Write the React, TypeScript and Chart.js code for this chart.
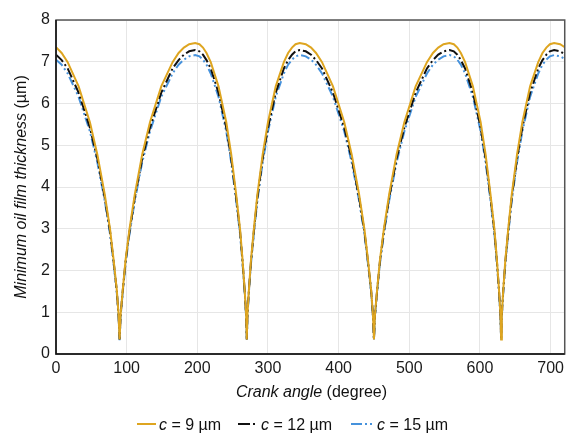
import React, { useEffect, useRef } from "react";
import { Chart, registerables } from "chart.js";
Chart.register(...registerables);

const angles = [
  0, 8, 16.5, 32, 48, 58.5, 69, 76.5, 81.5, 86, 88.5, 90,
  91.5, 94.5, 98.5, 104, 111.5, 122, 133, 149, 165, 173.5, 181, 188.5, 197,
  203, 208, 213, 219, 230, 241, 248, 255, 260.5, 264, 267, 269, 270,
  271, 273, 276, 280, 285, 292.5, 300, 311, 322.5, 328.5, 334, 339, 345,
  353.5, 361, 368, 376.5, 392, 408, 418.5, 429, 436.5, 441.5, 446, 448.5, 450,
  451.5, 454.5, 458.5, 464, 471.5, 482, 493, 509, 525, 533.5, 541, 548.5, 557,
  563, 568, 573, 579, 590, 601, 608, 615, 620.5, 624, 627, 629, 630,
  631, 633, 636, 640, 645, 652.5, 660, 671, 682.5, 688.5, 694, 699, 705,
  713.5, 720,
];

const c9 = [
  7.35, 7.21, 6.99, 6.41, 5.55, 4.78, 3.82, 2.99, 2.26, 1.54, 0.96, 0.35,
  0.96, 1.54, 2.26, 2.99, 3.82, 4.78, 5.55, 6.41, 6.99, 7.21, 7.34, 7.42, 7.45,
  7.42, 7.34, 7.21, 6.99, 6.41, 5.55, 4.78, 3.82, 2.99, 2.26, 1.54, 0.96, 0.35,
  0.96, 1.54, 2.26, 2.99, 3.82, 4.78, 5.55, 6.41, 6.99, 7.21, 7.34, 7.42, 7.45,
  7.42, 7.34, 7.21, 6.99, 6.41, 5.55, 4.78, 3.82, 2.99, 2.26, 1.54, 0.96, 0.35,
  0.96, 1.54, 2.26, 2.99, 3.82, 4.78, 5.55, 6.41, 6.99, 7.21, 7.34, 7.42, 7.45,
  7.42, 7.34, 7.21, 6.99, 6.41, 5.55, 4.78, 3.82, 2.99, 2.26, 1.54, 0.96, 0.35,
  0.96, 1.54, 2.26, 2.99, 3.82, 4.78, 5.55, 6.41, 6.99, 7.21, 7.34, 7.42, 7.45,
  7.42, 7.35,
];

const c12 = [
  7.17, 7.04, 6.84, 6.26, 5.42, 4.68, 3.74, 2.93, 2.22, 1.52, 0.94, 0.35,
  0.94, 1.52, 2.22, 2.93, 3.74, 4.68, 5.42, 6.26, 6.84, 7.04, 7.17, 7.25, 7.28,
  7.25, 7.17, 7.04, 6.84, 6.26, 5.42, 4.68, 3.74, 2.93, 2.22, 1.52, 0.94, 0.35,
  0.94, 1.52, 2.22, 2.93, 3.74, 4.68, 5.42, 6.26, 6.84, 7.04, 7.17, 7.25, 7.28,
  7.25, 7.17, 7.04, 6.84, 6.26, 5.42, 4.68, 3.74, 2.93, 2.22, 1.52, 0.94, 0.35,
  0.94, 1.52, 2.22, 2.93, 3.74, 4.68, 5.42, 6.26, 6.84, 7.04, 7.17, 7.25, 7.28,
  7.25, 7.17, 7.04, 6.84, 6.26, 5.42, 4.68, 3.74, 2.93, 2.22, 1.52, 0.94, 0.35,
  0.94, 1.52, 2.22, 2.93, 3.74, 4.68, 5.42, 6.26, 6.84, 7.04, 7.17, 7.25, 7.28,
  7.25, 7.18,
];

const c15 = [
  7.05, 6.93, 6.72, 6.16, 5.33, 4.59, 3.67, 2.87, 2.17, 1.48, 0.91, 0.33,
  0.91, 1.48, 2.17, 2.87, 3.67, 4.59, 5.33, 6.16, 6.72, 6.93, 7.05, 7.13, 7.16,
  7.13, 7.05, 6.93, 6.72, 6.16, 5.33, 4.59, 3.67, 2.87, 2.17, 1.48, 0.91, 0.33,
  0.91, 1.48, 2.17, 2.87, 3.67, 4.59, 5.33, 6.16, 6.72, 6.93, 7.05, 7.13, 7.16,
  7.13, 7.05, 6.93, 6.72, 6.16, 5.33, 4.59, 3.67, 2.87, 2.17, 1.48, 0.91, 0.33,
  0.91, 1.48, 2.17, 2.87, 3.67, 4.59, 5.33, 6.16, 6.72, 6.93, 7.05, 7.13, 7.16,
  7.13, 7.05, 6.93, 6.72, 6.16, 5.33, 4.59, 3.67, 2.87, 2.17, 1.48, 0.91, 0.33,
  0.91, 1.48, 2.17, 2.87, 3.67, 4.59, 5.33, 6.16, 6.72, 6.93, 7.05, 7.13, 7.16,
  7.13, 7.07,
];

const xTicks = [0, 100, 200, 300, 400, 500, 600, 700];
const yTicks = [0, 1, 2, 3, 4, 5, 6, 7, 8];

const FONT = "'Liberation Sans', Arial, Helvetica, sans-serif";
const YELLOW = "#DEA520";
const BLACK = "#111111";
const BLUE = "#4692DC";

export default function App() {
  const ref = useRef<HTMLCanvasElement>(null);

  useEffect(() => {
    document.body.style.margin = "0";
    const pts = (ys: number[]) => angles.map((a, i) => ({ x: a, y: ys[i] }));
    const frame = {
      id: "frame",
      afterDatasetsDraw(chart: any) {
        const { ctx, chartArea: a } = chart;
        ctx.save();
        ctx.strokeStyle = "#555555";
        ctx.lineWidth = 1.5;
        ctx.strokeRect(a.left, a.top, a.right - a.left, a.bottom - a.top);
        ctx.strokeStyle = "#111111";
        ctx.beginPath();
        ctx.moveTo(a.left, a.top);
        ctx.lineTo(a.left, a.bottom);
        ctx.lineTo(a.right, a.bottom);
        ctx.stroke();
        ctx.restore();
      },
    };
    const chart = new Chart(ref.current as HTMLCanvasElement, {
      type: "line",
      data: {
        datasets: [
          { label: "c = 9 µm", data: pts(c9), borderColor: YELLOW, borderWidth: 2, pointRadius: 0, tension: 0, fill: false },
          { label: "c = 12 µm", data: pts(c12), borderColor: BLACK, borderWidth: 2, borderDash: [10, 3, 2, 3], pointRadius: 0, tension: 0, fill: false },
          { label: "c = 15 µm", data: pts(c15), borderColor: BLUE, borderWidth: 2, borderDash: [9, 3, 2, 3, 2, 3], pointRadius: 0, tension: 0, fill: false },
        ],
      },
      options: {
        animation: false,
        responsive: false,
        maintainAspectRatio: false,
        events: [],
        layout: { padding: { top: 20, right: 2, bottom: 0, left: 0 } },
        plugins: { legend: { display: false }, tooltip: { enabled: false } },
        scales: {
          x: {
            type: "linear",
            min: 0,
            max: 720,
            afterBuildTicks: (s: any) => { s.ticks = xTicks.map((v) => ({ value: v })); },
            afterFit: (s: any) => { s.height = 83; },
            ticks: { font: { family: FONT, size: 16 }, color: "#1a1a1a", padding: 5, maxRotation: 0 },
            grid: { color: "#e6e6e6", drawTicks: false, lineWidth: 1 },
            border: { display: false },
          },
          y: {
            type: "linear",
            min: 0,
            max: 8,
            afterBuildTicks: (s: any) => { s.ticks = yTicks.map((v) => ({ value: v })); },
            afterFit: (s: any) => { s.width = 56; },
            ticks: { font: { family: FONT, size: 16 }, color: "#1a1a1a", padding: 6 },
            grid: { color: "#e6e6e6", drawTicks: false, lineWidth: 1 },
            border: { display: false },
          },
        },
      },
      plugins: [frame],
    } as any);
    return () => chart.destroy();
  }, []);

  const textStyle: React.CSSProperties = { fontFamily: FONT, fontSize: 16, color: "#111", whiteSpace: "nowrap", position: "absolute", lineHeight: "20px" };

  return (
    <div style={{ position: "relative", width: 569, height: 437, background: "#fff" }}>
      <canvas ref={ref} width={569} height={437} style={{ display: "block", width: 569, height: 437 }} />
      <div style={{ ...textStyle, left: 56, width: 511, top: 382, textAlign: "center" }}>
        <i>Crank angle</i> (degree)
      </div>
      <div style={{ ...textStyle, left: 21 - 160, top: 187 - 10, width: 320, height: 20, textAlign: "center", transform: "rotate(-90deg)" }}>
        <i>Minimum oil film thickness</i> (µm)
      </div>
      <svg style={{ position: "absolute", left: 137, top: 419 }} width={20} height={10}>
        <line x1={0} y1={5} x2={19} y2={5} stroke={YELLOW} strokeWidth={2} />
      </svg>
      <div style={{ ...textStyle, left: 159, top: 415 }}><i>c</i> = 9 µm</div>
      <svg style={{ position: "absolute", left: 238, top: 419 }} width={20} height={10}>
        <line x1={0} y1={5} x2={19} y2={5} stroke={BLACK} strokeWidth={2} strokeDasharray="12 3 2 3" />
      </svg>
      <div style={{ ...textStyle, left: 261, top: 415 }}><i>c</i> = 12 µm</div>
      <svg style={{ position: "absolute", left: 351, top: 419 }} width={24} height={10}>
        <line x1={0} y1={5} x2={22} y2={5} stroke={BLUE} strokeWidth={2} strokeDasharray="11 3 2 3 2 3" />
      </svg>
      <div style={{ ...textStyle, left: 377, top: 415 }}><i>c</i> = 15 µm</div>
    </div>
  );
}
